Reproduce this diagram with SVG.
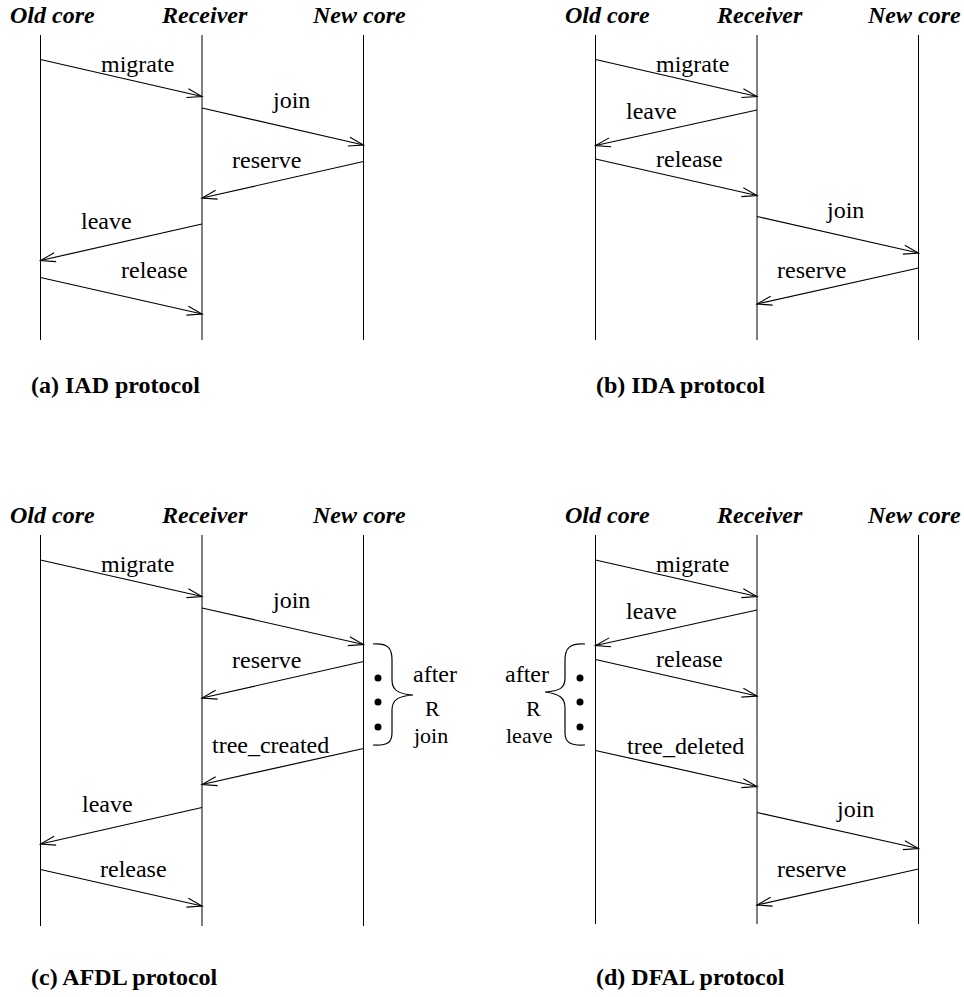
<svg xmlns="http://www.w3.org/2000/svg" width="964" height="997" viewBox="0 0 964 997" font-family="Liberation Serif, Times New Roman, DejaVu Serif, serif">
<style>
.hd{font-size:24px;font-weight:bold;font-style:italic;fill:#000}
.lb{font-size:24px;fill:#000}
.sm{font-size:22px;fill:#000}
.cap{font-size:24px;font-weight:bold;fill:#000}
.ll{stroke:#000;stroke-width:1;fill:none}
.msg{stroke:#000;stroke-width:1.2;fill:none;marker-end:url(#ah)}
.br{stroke:#000;stroke-width:1.2;fill:none}
</style>
<defs>
<marker id="ah" markerUnits="userSpaceOnUse" markerWidth="20" markerHeight="14" viewBox="-17 -7 18 14" refX="0" refY="0" orient="auto">
<path d="M-15,-4.5 L0,0 L-15,4.5" fill="none" stroke="#000" stroke-width="1.1"/>
</marker>
</defs>
<rect width="964" height="997" fill="#fff"/>

<g id="a-old"><text class="hd" x="10" y="23">Old core</text><line class="ll" x1="40.5" y1="35" x2="40.5" y2="340"/></g>
<g id="a-recv"><text class="hd" x="162" y="23">Receiver</text><line class="ll" x1="202" y1="35" x2="202" y2="340"/></g>
<g id="a-new"><text class="hd" x="313" y="23">New core</text><line class="ll" x1="363.5" y1="35" x2="363.5" y2="340"/></g>
<g id="a-cap"><text class="cap" x="31" y="393">(a) IAD protocol</text></g>

<g id="b-old"><text class="hd" x="565" y="23">Old core</text><line class="ll" x1="595.5" y1="35" x2="595.5" y2="340"/></g>
<g id="b-recv"><text class="hd" x="717" y="23">Receiver</text><line class="ll" x1="757" y1="35" x2="757" y2="340"/></g>
<g id="b-new"><text class="hd" x="868" y="23">New core</text><line class="ll" x1="918.5" y1="35" x2="918.5" y2="340"/></g>
<g id="b-cap"><text class="cap" x="596" y="393">(b) IDA protocol</text></g>

<g id="c-old"><text class="hd" x="10" y="523">Old core</text><line class="ll" x1="40.5" y1="535" x2="40.5" y2="926"/></g>
<g id="c-recv"><text class="hd" x="162" y="523">Receiver</text><line class="ll" x1="202" y1="535" x2="202" y2="926"/></g>
<g id="c-new"><text class="hd" x="313" y="523">New core</text><line class="ll" x1="363.5" y1="535" x2="363.5" y2="926"/></g>
<g id="c-note">
<path class="br" d="M373,644 C388,643 392,648 392,660 L392,680 C392,690 398,694 413,695 C398,696 392,700 392,710 L392,733 C392,742 388,746 373,745"/>
<circle cx="378" cy="678" r="3.5"/><circle cx="378" cy="702" r="3.5"/><circle cx="378" cy="727" r="3.5"/>
<text class="lb" x="413" y="682">after</text>
<text class="sm" x="425" y="716">R</text>
<text class="sm" x="414" y="743">join</text>
</g>
<g id="c-cap"><text class="cap" x="31" y="985">(c) AFDL protocol</text></g>

<g id="d-old"><text class="hd" x="565" y="523">Old core</text><line class="ll" x1="595.5" y1="535" x2="595.5" y2="924"/></g>
<g id="d-recv"><text class="hd" x="717" y="523">Receiver</text><line class="ll" x1="757" y1="535" x2="757" y2="924"/></g>
<g id="d-new"><text class="hd" x="868" y="523">New core</text><line class="ll" x1="918.5" y1="535" x2="918.5" y2="924"/></g>
<g id="d-note">
<path class="br" d="M585,644 C570,643 565,648 565,660 L565,678 C565,688 560,691 545,692 C560,694 565,698 565,708 L565,733 C565,742 570,746 585,745"/>
<circle cx="580" cy="678" r="3.5"/><circle cx="580" cy="702" r="3.5"/><circle cx="580" cy="727" r="3.5"/>
<text class="lb" x="505" y="682">after</text>
<text class="sm" x="526" y="716">R</text>
<text class="sm" x="506" y="743">leave</text>
</g>
<g id="d-cap"><text class="cap" x="596" y="985">(d) DFAL protocol</text></g>

<g id="connectors">
<line class="msg" x1="40.5" y1="59.5" x2="202" y2="96.5"/>
<line class="msg" x1="202" y1="108" x2="363.5" y2="145"/>
<line class="msg" x1="363.5" y1="161.5" x2="202" y2="198"/>
<line class="msg" x1="202" y1="224" x2="40.5" y2="260.5"/>
<line class="msg" x1="40.5" y1="277.5" x2="202" y2="314"/>
<line class="msg" x1="595.5" y1="59.5" x2="757" y2="96.5"/>
<line class="msg" x1="757" y1="110" x2="595.5" y2="145.5"/>
<line class="msg" x1="595.5" y1="159" x2="757" y2="195.5"/>
<line class="msg" x1="757" y1="216.5" x2="918.5" y2="253"/>
<line class="msg" x1="918.5" y1="268" x2="757" y2="304"/>
<line class="msg" x1="40.5" y1="560" x2="202" y2="596.5"/>
<line class="msg" x1="202" y1="608" x2="363.5" y2="644.5"/>
<line class="msg" x1="363.5" y1="661.5" x2="202" y2="698"/>
<line class="msg" x1="363.5" y1="748.5" x2="202" y2="784.5"/>
<line class="msg" x1="202" y1="807.5" x2="40.5" y2="844"/>
<line class="msg" x1="40.5" y1="869.5" x2="202" y2="906"/>
<line class="msg" x1="595.5" y1="560" x2="757" y2="596.5"/>
<line class="msg" x1="757" y1="610" x2="595.5" y2="645.5"/>
<line class="msg" x1="595.5" y1="659.5" x2="757" y2="696"/>
<line class="msg" x1="595.5" y1="750.5" x2="757" y2="786.5"/>
<line class="msg" x1="757" y1="812.5" x2="918.5" y2="848.5"/>
<line class="msg" x1="918.5" y1="869" x2="757" y2="905"/>
</g>

<g id="labels">
<text class="lb" x="101" y="72">migrate</text>
<text class="lb" x="273" y="108">join</text>
<text class="lb" x="232" y="168">reserve</text>
<text class="lb" x="81" y="229">leave</text>
<text class="lb" x="121" y="278">release</text>
<text class="lb" x="656" y="72">migrate</text>
<text class="lb" x="626" y="119">leave</text>
<text class="lb" x="656" y="167">release</text>
<text class="lb" x="827" y="218">join</text>
<text class="lb" x="777" y="278">reserve</text>
<text class="lb" x="101" y="572">migrate</text>
<text class="lb" x="273" y="608">join</text>
<text class="lb" x="232" y="668">reserve</text>
<text class="lb" x="212" y="753">tree_created</text>
<text class="lb" x="82" y="812">leave</text>
<text class="lb" x="100" y="877">release</text>
<text class="lb" x="656" y="572">migrate</text>
<text class="lb" x="626" y="619">leave</text>
<text class="lb" x="656" y="667">release</text>
<text class="lb" x="627" y="754">tree_deleted</text>
<text class="lb" x="837" y="817">join</text>
<text class="lb" x="777" y="877">reserve</text>
</g>
</svg>
